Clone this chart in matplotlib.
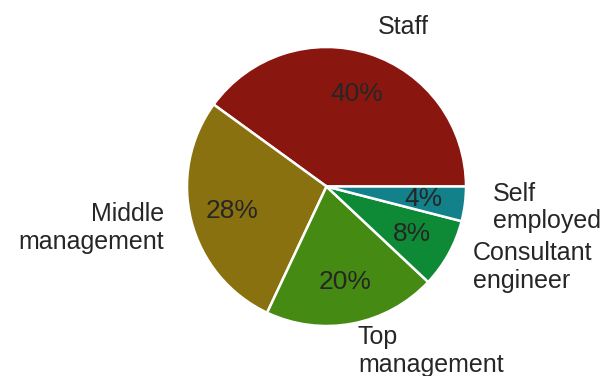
import matplotlib
matplotlib.use("Agg")
import matplotlib.pyplot as plt

categories = ["Staff", "Middle\nmanagement", "Top\nmanagement", "Consultant\nengineer", "Self\nemployed"]
shares = [40, 28, 20, 8, 4]
colors = ["#8a1610", "#8a7110", "#458a12", "#0e8a36", "#12818a"]

plt.rcParams["font.family"] = ["Liberation Sans", "DejaVu Sans"]

W, H = 606, 376
fig = plt.figure(figsize=(W / 100, H / 100), dpi=100)
cx, cy, r = 326.5, 186.5, 139.5
ax = fig.add_axes([(cx - r) / W, (H - cy - r) / H, 2 * r / W, 2 * r / H])

wedges, texts, autotexts = ax.pie(
    shares,
    labels=categories,
    colors=colors,
    startangle=0,
    counterclock=True,
    autopct="%.0f%%",
    pctdistance=0.7,
    labeldistance=1.2,
    wedgeprops=dict(edgecolor="white", linewidth=1.8),
    textprops=dict(fontsize=18, color="#262626"),
)
for t in autotexts:
    t.set_fontsize(19)
ax.set_xlim(-1, 1)
ax.set_ylim(-1, 1)
ax.set_aspect("equal")
ax.axis("off")

fig.savefig("out.png", dpi=100)
